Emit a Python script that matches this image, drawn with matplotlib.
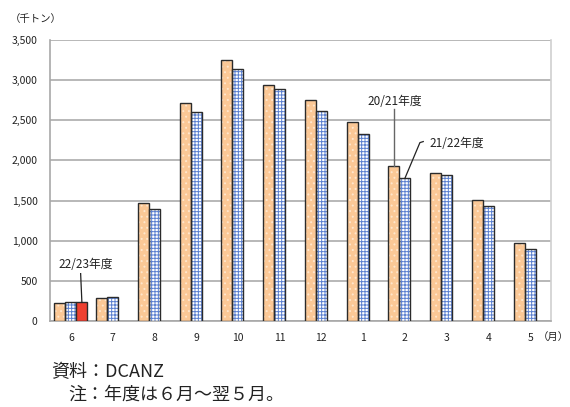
import matplotlib
matplotlib.use("Agg")
import matplotlib.pyplot as plt
import numpy as np

plt.rcParams['font.family'] = ['Noto Sans CJK JP', 'DejaVu Sans']
plt.rcParams['hatch.linewidth'] = 0.7

# Monthly volumes (thousand tonnes), fiscal year June - May
months = ['6', '7', '8', '9', '10', '11', '12', '1', '2', '3', '4', '5']
fy2021 = [224, 283, 1466, 2718, 3247, 2935, 2748, 2478, 1934, 1847, 1511, 968]
fy2122 = [233, 303, 1395, 2599, 3142, 2889, 2615, 2329, 1777, 1814, 1428, 900]
fy2223 = [233]
series_labels = ['20/21年度', '21/22年度', '22/23年度']
yticks = [0, 500, 1000, 1500, 2000, 2500, 3000, 3500]

fig = plt.figure(figsize=(5.70, 4.07), dpi=100)
ax = fig.add_axes([0.0877, 0.2113, 0.8790, 0.6904])

x = np.arange(len(months))
w = 0.264
edge = '#2b2b2b'


def draw_bars(xpos, vals, face, hatch, hcolor):
    # fill + hatch first, then a crisp outline on top
    ax.bar(xpos, vals, w, color=face, edgecolor=hcolor, hatch=hatch,
           linewidth=0, zorder=3)
    ax.bar(xpos, vals, w, fill=False, edgecolor=edge, linewidth=1.0, zorder=4)


draw_bars(x - w, fy2021, '#FBC896', '...', '#FFE6CC')
draw_bars(x, fy2122, 'white', '+++++', '#5B80D0')
ax.bar(x[:len(fy2223)] + w, fy2223, w, color='#EE4030', edgecolor=edge,
       linewidth=1.0, zorder=4)

ax.set_xlim(-0.5, len(months) - 0.5)
ax.set_ylim(0, 3500)
ax.set_yticks(yticks)
ax.set_yticklabels([f'{v:,}' for v in yticks], fontsize=7.5, color='#222222')
ax.set_xticks(x)
ax.set_xticklabels(months, fontsize=7.5, color='#222222')
ax.tick_params(axis='y', length=0, pad=9)
ax.tick_params(axis='x', length=0, pad=8.5)
ax.yaxis.grid(True, color='#ABABAB', linewidth=1.2, zorder=0)
ax.set_axisbelow(True)
for side in ['left', 'bottom']:
    ax.spines[side].set_color('#A8A8A8')
    ax.spines[side].set_linewidth(1.2)
ax.spines['right'].set_color('#D0D0D0')
ax.spines['right'].set_linewidth(1.2)
ax.spines['top'].set_visible(False)

# Series labels with leader lines to the bar tops
ax.plot([0 + w - 0.03, 0 + w], [590, fy2223[0]], color='#222222', lw=0.9, zorder=5)
ax.text(0.36, 700, series_labels[2], fontsize=8.5, ha='center', va='center',
        color='#222222')

ax.plot([8 - w, 8 - w], [2640, fy2021[8]], color='#666666', lw=1.0, zorder=5)
ax.text(7.75, 2740, series_labels[0], fontsize=8.5, ha='center', va='center',
        color='#222222')

ax.plot([8.44, 8.36, 8.0], [2235, 2222, fy2122[8]], color='#222222', lw=0.9,
        zorder=5)
ax.text(8.59, 2205, series_labels[1], fontsize=8.5, ha='left', va='center',
        color='#222222')

# Units and notes
fig.text(10 / 570, 1 - 19 / 407, '（千トン）', fontsize=7.5, ha='left',
         va='center', color='#222222')
fig.text(569 / 570, 1 - 337 / 407, '（月）', fontsize=7.5, ha='right',
         va='center', color='#222222')
fig.text(51 / 570, 1 - 372 / 407, '資料：DCANZ', fontsize=13, ha='left',
         va='center', color='#222222')
fig.text(68 / 570, 1 - 395 / 407, '注：年度は６月～翌５月。', fontsize=13,
         ha='left', va='center', color='#222222')

fig.savefig('out.png', dpi=100)
